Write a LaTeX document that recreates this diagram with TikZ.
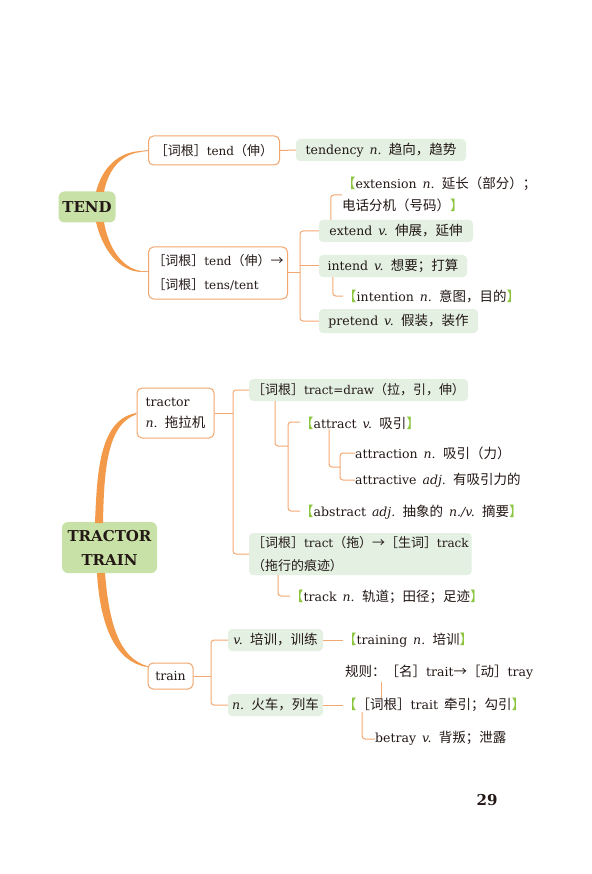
\documentclass[tikz,border=0pt]{standalone}
\usepackage{fontspec}
\setmainfont{DejaVu Serif}[WordSpace=1.5]
\newfontfamily\cjk{Noto Sans CJK SC}[Scale=1.08]
\definecolor{txt}{HTML}{231815}
\definecolor{obd}{HTML}{F2A56C}
\definecolor{ol}{HTML}{F3A872}
\definecolor{oc}{HTML}{F39A4A}
\definecolor{gm}{HTML}{C8E1A6}
\definecolor{gl}{HTML}{E3F0E2}
\definecolor{brk}{HTML}{8CC63F}
\newcommand\zw[1]{{\cjk #1}}
\newcommand\gL{\textcolor{brk}{\zw{【}}}
\newcommand\gR{\textcolor{brk}{\zw{】}}}
\tikzset{
 ob/.style={draw=obd, line width=1pt, rounded corners=5pt, fill=white, inner sep=3pt},
 gb/.style={fill=gl, rounded corners=4pt, inner sep=3pt},
 mb/.style={fill=gm, rounded corners=6pt, font=\fontsize{15}{24}\selectfont\bfseries, align=center, inner sep=2pt},
 tx/.style={anchor=west, inner sep=0pt},
 ln/.style={draw=ol, line width=1pt, rounded corners=3pt},
 tap/.style={fill=oc},
}
\begin{document}
\begin{tikzpicture}[x=1pt,y=-1pt, font=\fontsize{12.5}{20}\selectfont, text=txt]
\useasboundingbox (0,0) rectangle (591,874);
\fill[white] (0,0) rectangle (591,874);

% ---------- TEND ----------
\node[mb, minimum width=57pt, minimum height=31pt] (tend) at (87,207) {TEND};
\node[ob, anchor=west, minimum width=131pt, minimum height=29pt, font=\fontsize{12}{20}\selectfont] (b1) at (148,150.5) {\zw{［词根］}tend\zw{（伸）}};
\node[gb, minimum width=170pt, minimum height=22pt] (tdcy) at (381,150) {tendency \textit{n.} \zw{趋向，趋势}};
\node[ob, anchor=west, minimum width=134pt, minimum height=52pt, align=left, font=\fontsize{12}{24}\selectfont, inner xsep=4pt] (b2) at (148,273) {\zw{［词根］}tend\zw{（伸）→}\\\zw{［词根］}tens/tent};
\node[gb, minimum width=154pt, minimum height=22pt] (ext) at (396,231) {extend \textit{v.} \zw{伸展，延伸}};
\node[gb, minimum width=148pt, minimum height=22pt] (int) at (393,266) {intend \textit{v.} \zw{想要；打算}};
\node[gb, minimum width=159pt, minimum height=24pt] (pre) at (398.5,321) {pretend \textit{v.} \zw{假装，装作}};
\node[tx, align=left, font=\fontsize{12.5}{22}\selectfont] (extn) at (342,194) {\gL extension \textit{n.} \zw{延长（部分）；}\\\zw{电话分机（号码）}\gR};
\node[tx] (intn) at (343,296) {\gL intention \textit{n.} \zw{意图，目的}\gR};

\fill[tap] (96,192) .. controls (102,168) and (118,152) .. (141,151) -- (141,152) .. controls (121,154) and (108,170) .. (104,192) -- cycle;
\fill[tap] (96,222) .. controls (102,248) and (118,271) .. (141,272) -- (141,271) .. controls (121,268) and (108,246) .. (104,222) -- cycle;
\draw[ln] (140,151.5) -- (b1.west);
\draw[ln] (140,271.5) -- (b2.west |- 0,271.5);
\draw[ln] (b1.east) -- (tdcy.west);
\coordinate (k1) at (300,273);
\draw[ln] (b2.east |- k1) -- (k1);
\draw[ln] (ext.west) -| (k1) |- (pre.west);
\draw[ln] (int.west) -- (int.west -| k1);
\draw[ln] ([xshift=12pt]ext.north west) |- ([yshift=-1pt]extn.west);
\draw[ln] ([xshift=14pt]int.south west) |- (intn.west);

% ---------- TRACTOR TRAIN ----------
\node[mb, minimum width=95pt, minimum height=51pt] (tt) at (109.5,547.5) {TRACTOR\\TRAIN};
\node[ob, minimum width=77pt, minimum height=50pt, align=left, font=\fontsize{12.5}{21}\selectfont] (trc) at (175.5,413) {tractor\\\textit{n.} \zw{拖拉机}};
\node[gb, anchor=west, minimum width=211pt, minimum height=22pt, font=\fontsize{12}{20}\selectfont] (tdr) at (249,390) {\zw{［词根］}tract=draw\zw{（拉，引，伸）}};
\node[tx] (att) at (300,423) {\gL attract \textit{v.} \zw{吸引}\gR};
\node[tx] (atn) at (355,453) {attraction \textit{n.} \zw{吸引（力）}};
\node[tx] (atv) at (355,480) {attractive \textit{adj.} \zw{有吸引力的}};
\node[tx] (abs) at (300,512) {\gL abstract \textit{adj.} \zw{抽象的} \textit{n./v.} \zw{摘要}\gR};
\node[gb, anchor=west, minimum width=221pt, minimum height=42pt, align=left, font=\fontsize{12}{23}\selectfont] (ttr) at (249,554) {\zw{［词根］}tract\zw{（拖）→［生词］}track\\\zw{（拖行的痕迹）}};
\node[tx] (trk) at (290,597) {\gL track \textit{n.} \zw{轨道；田径；足迹}\gR};

\fill[tap] (95,523) .. controls (97,470) and (100,420) .. (136,413) -- (136,414.5) .. controls (107,425) and (104,470) .. (103,523) -- cycle;
\draw[ln] (135,413.5) -- (trc.west);
\coordinate (k2) at (233,413);
\draw[ln] (trc.east) -- (k2);
\draw[ln] (tdr.west) -| (k2) |- (ttr.west);
\coordinate (k3) at (288,446);
\draw[ln] ([xshift=26pt]tdr.south west) |- (k3);
\draw[ln] ([yshift=1pt]att.west) -| (k3) |- ([yshift=1pt]abs.west);
\coordinate (k4) at (340,467);
\draw[ln] ([xshift=29pt]att.south west) |- (k4);
\draw[ln] (atn.west) -| (k4) |- (atv.west);
\draw[ln] ([xshift=29pt]ttr.south west) |- ([yshift=1pt]trk.west);

% ---------- train ----------
\node[ob, minimum width=45pt, minimum height=26pt] (trn) at (170.5,676) {train};
\node[gb, minimum width=95pt, minimum height=22pt] (vb) at (275.5,640) {\textit{v.} \zw{培训，训练}};
\node[gb, minimum width=95pt, minimum height=22pt] (nb) at (275.5,705) {\textit{n.} \zw{火车，列车}};
\node[tx] (trg) at (343,640) {\gL training \textit{n.} \zw{培训}\gR};
\node[tx] (rul) at (345,672) {\zw{规则：［名］}trait\zw{→［动］}tray};
\node[tx] (trt) at (343,705) {\gL\zw{［词根］}trait \zw{牵引；勾引}\gR};
\node[tx] (btr) at (375,738) {betray \textit{v.} \zw{背叛；泄露}};

\fill[tap] (97,573) .. controls (100,625) and (115,662) .. (147,667) -- (147,666) .. controls (120,658) and (109,625) .. (105,573) -- cycle;
\draw[ln] (146,666.5) -- (trn.west |- 0,666.5);
\coordinate (k5) at (211,676);
\draw[ln] (trn.east) -- (k5);
\draw[ln] (vb.west) -| (k5) |- (nb.west);
\draw[ln] (vb.east) -- (trg.west);
\draw[ln] (nb.east) -- (trt.west);
\coordinate (r1) at (381,682);
\draw[ln] (r1) -- (r1 |- trt.north);
\draw[ln] ([xshift=19pt]trt.south west) |- ([yshift=-1pt]btr.west);

\node[font=\fontsize{15}{18}\selectfont\bfseries] (pg) at (487,800) {29};
\end{tikzpicture}
\end{document}
